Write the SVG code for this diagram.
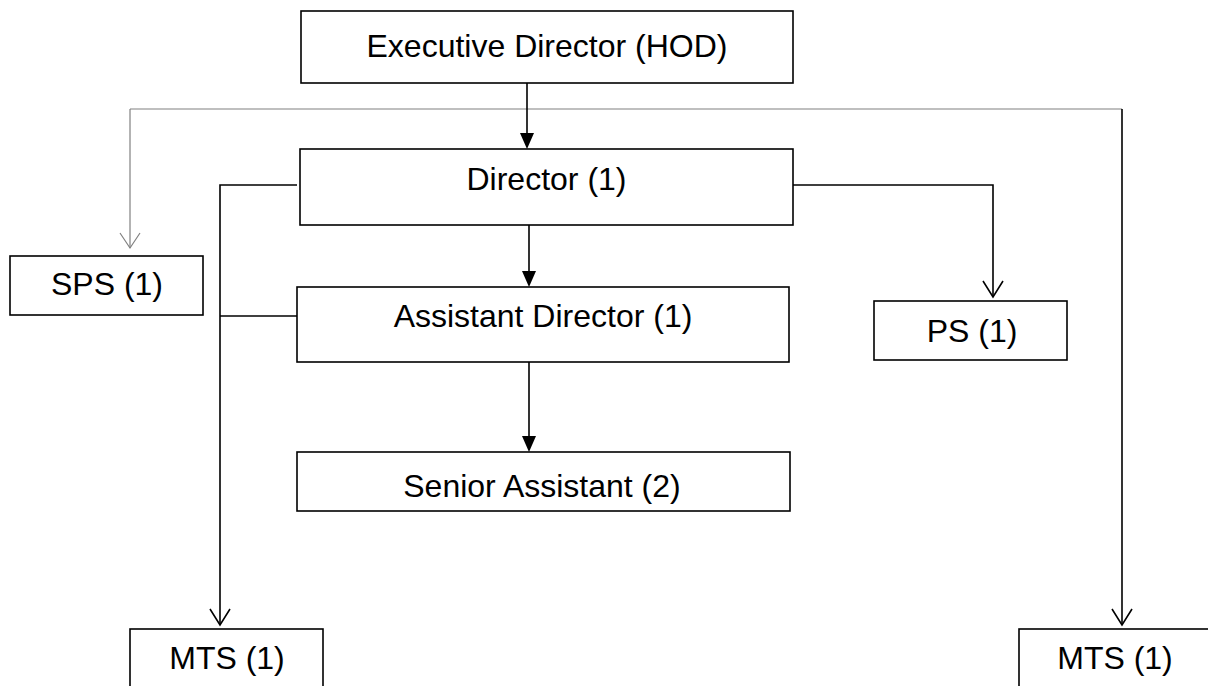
<svg xmlns="http://www.w3.org/2000/svg" width="1208" height="686" viewBox="0 0 1208 686">
<style>
.box{fill:#fff;stroke:#000;stroke-width:1.6}
.t{font-family:"Liberation Sans",Arial,sans-serif;font-size:32px;fill:#000;text-anchor:middle}
.ln{fill:none;stroke:#000;stroke-width:1.6}
.gl{fill:none;stroke:#808080;stroke-width:1.2}
.ov{fill:none;stroke:#000;stroke-width:1.6}
.ovg{fill:none;stroke:#808080;stroke-width:1.2}
.fh{fill:#000;stroke:none}
</style>
<rect width="1208" height="686" fill="#fff"/>
<g id="connectors">
  <path class="gl" d="M130,109 H1122"/>
  <path class="gl" d="M130,109 V248"/>
  <path class="ovg" d="M120,233 L130,248 L140,233"/>
  <path class="ln" d="M1122,109 V625"/>
  <path class="ov" d="M1112,609 L1122,625 L1132,609"/>
  <path class="ln" d="M527,83 V136"/>
  <path class="fh" d="M520,133 L534,133 L527,149 Z"/>
  <path class="ln" d="M529,225 V272"/>
  <path class="fh" d="M522,271 L536,271 L529,287 Z"/>
  <path class="ln" d="M529,362 V438"/>
  <path class="fh" d="M522,436 L536,436 L529,452 Z"/>
  <path class="ln" d="M297,185 H220 V625"/>
  <path class="ov" d="M210,609 L220,625 L230,609"/>
  <path class="ln" d="M220,316 H297"/>
  <path class="ln" d="M789,185 H993 V297"/>
  <path class="ov" d="M983,281 L993,297 L1003,281"/>
</g>
<g id="exec"><rect class="box" x="301" y="11" width="492" height="72"/><text class="t" x="547" y="57">Executive Director (HOD)</text></g>
<g id="director"><rect class="box" x="300" y="149" width="493" height="76"/><text class="t" x="546.5" y="190">Director (1)</text></g>
<g id="asstdir"><rect class="box" x="297" y="287" width="492" height="75"/><text class="t" x="543" y="327">Assistant Director (1)</text></g>
<g id="senior"><rect class="box" x="297" y="452" width="493" height="59"/><text class="t" x="542" y="497">Senior Assistant (2)</text></g>
<g id="sps"><rect class="box" x="10" y="256" width="193" height="59"/><text class="t" x="107" y="295">SPS (1)</text></g>
<g id="ps"><rect class="box" x="874" y="301" width="193" height="59"/><text class="t" x="972" y="342">PS (1)</text></g>
<g id="mts1"><rect class="box" x="130" y="629" width="193" height="70"/><text class="t" x="227" y="669">MTS (1)</text></g>
<g id="mts2"><rect class="box" x="1019" y="629" width="193" height="70"/><text class="t" x="1115" y="669">MTS (1)</text></g>
</svg>
